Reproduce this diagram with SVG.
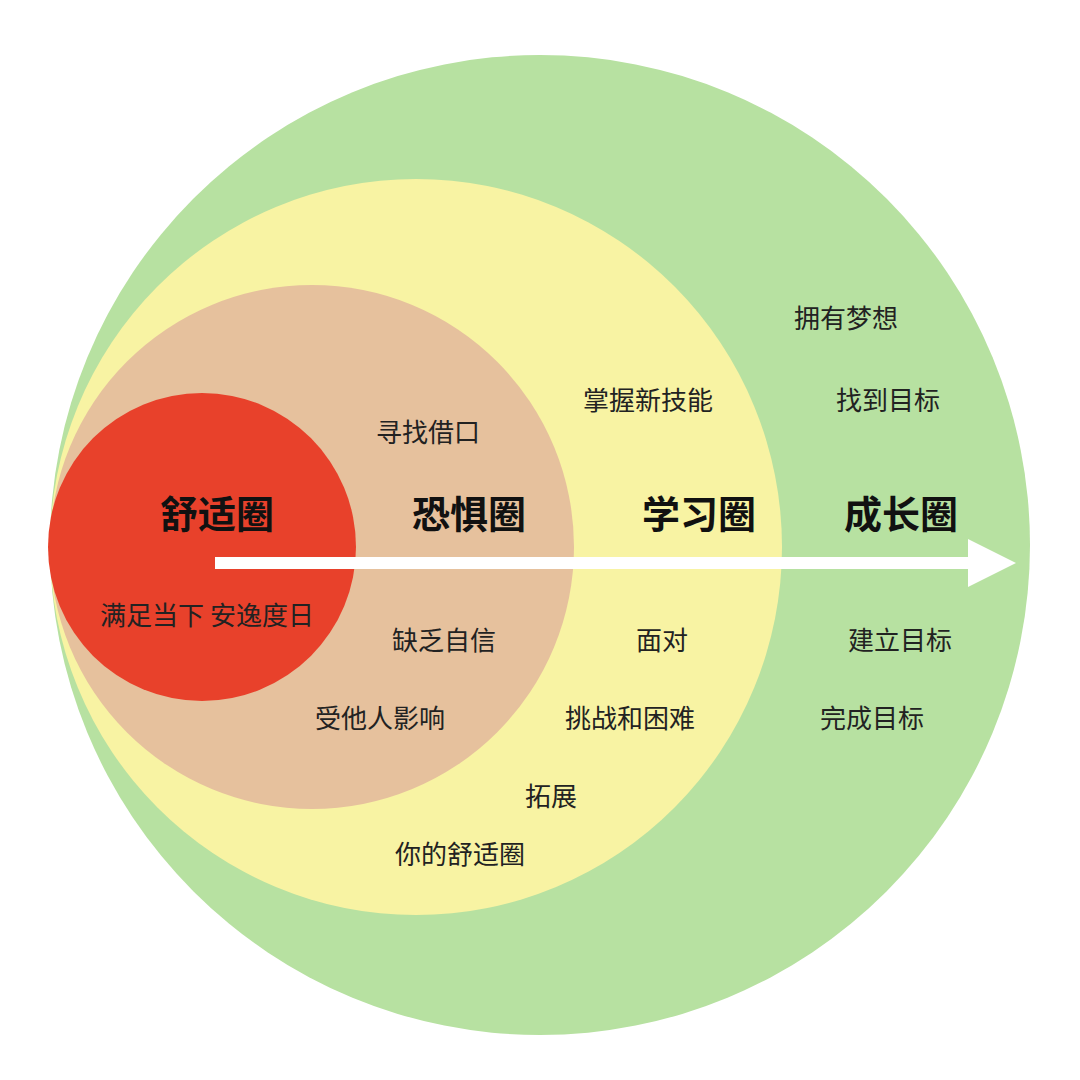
<svg xmlns="http://www.w3.org/2000/svg" width="1080" height="1080" viewBox="0 0 1080 1080">
<style>
text{font-family:"Noto Sans CJK SC","Noto Sans",sans-serif;fill:#222;text-anchor:middle}
.t{font-size:38px;font-weight:bold;fill:#111}
.s{font-size:26px}
</style>
<defs><marker id="ah" markerWidth="4" markerHeight="4" refX="2" refY="2" orient="auto"><path d="M0,0L4,2L0,4Z" fill="#fff"/></marker></defs>
<rect width="1080" height="1080" fill="#fff"/>
<g id="growth"><circle cx="540" cy="545" r="490" fill="#b7e1a1"/></g>
<g id="learning"><ellipse cx="416" cy="547" rx="366" ry="368" fill="#f8f3a3"/></g>
<g id="fear"><circle cx="312" cy="547" r="262" fill="#e6c19d"/></g>
<g id="comfort"><circle cx="202" cy="547" r="154" fill="#e8412b"/></g>
<g id="connectors"><line x1="215" y1="563" x2="992" y2="563" stroke="#fff" stroke-width="12" marker-end="url(#ah)"/></g>
<g id="labels">
<text class="t" x="217" y="528">舒适圈</text>
<text class="t" x="469" y="528">恐惧圈</text>
<text class="t" x="699" y="528">学习圈</text>
<text class="t" x="901" y="528">成长圈</text>
<text class="s" x="207" y="625">满足当下 安逸度日</text>
<text class="s" x="428" y="442">寻找借口</text>
<text class="s" x="444" y="650">缺乏自信</text>
<text class="s" x="380" y="728">受他人影响</text>
<text class="s" x="648" y="410">掌握新技能</text>
<text class="s" x="662" y="650">面对</text>
<text class="s" x="630" y="728">挑战和困难</text>
<text class="s" x="551" y="806">拓展</text>
<text class="s" x="460" y="864">你的舒适圈</text>
<text class="s" x="846" y="328">拥有梦想</text>
<text class="s" x="888" y="410">找到目标</text>
<text class="s" x="900" y="650">建立目标</text>
<text class="s" x="872" y="728">完成目标</text>
</g>
</svg>
